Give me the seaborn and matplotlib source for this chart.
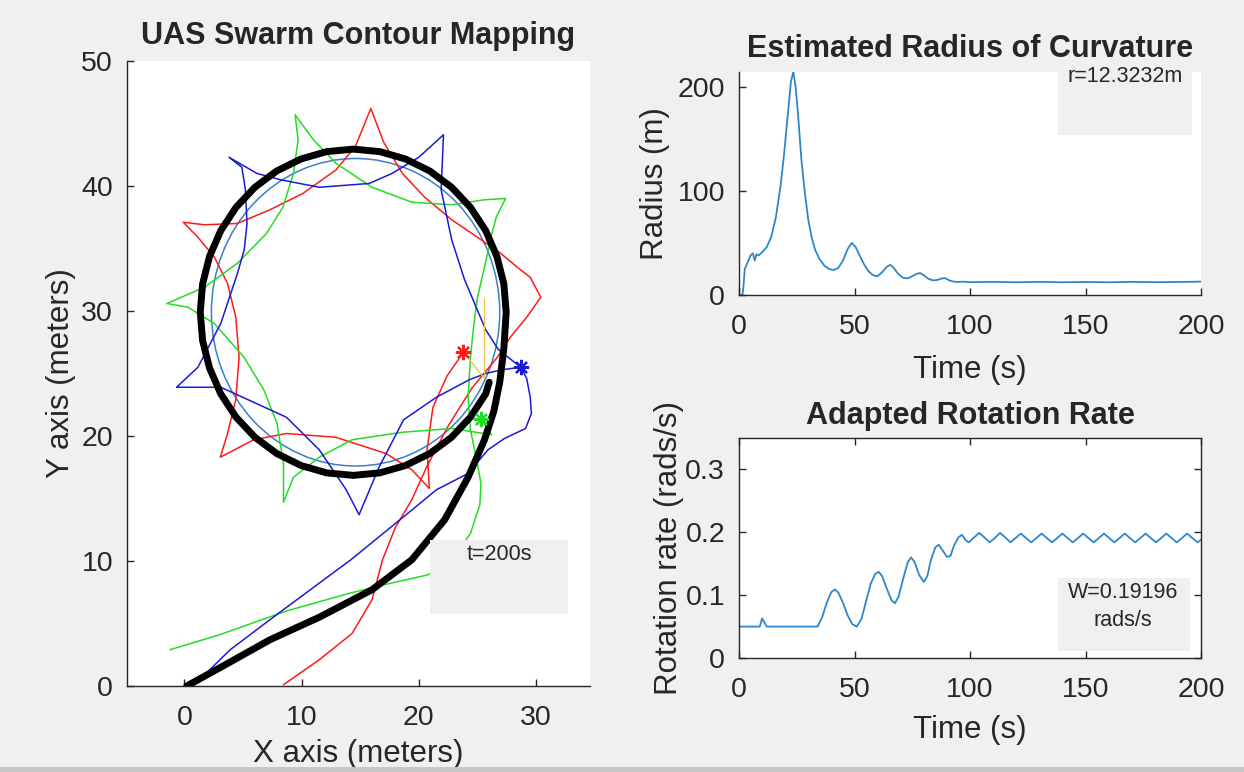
import matplotlib
matplotlib.use("Agg")
import matplotlib.pyplot as plt
import seaborn as sns
from matplotlib.patches import Circle, Rectangle

# ---- swarm map: agent paths (meters) ----
red_x = [8.45, 11.5, 14.3, 16.0, 16.9, 18.0, 19.4, 20.7, 22.5, 24.5, 26.7, 27.8, 29.2, 30.4,
         29.5, 28.4, 27.0, 25.0, 22.8, 20.5, 18.6, 17.0, 15.9,
         14.6, 12.95, 10.1, 7.3, 4.5, 1.7, -0.1,
         1.15, 2.56, 3.68, 4.38, 4.66, 4.38, 3.68, 3.06,
         5.9, 8.7, 12.9, 17.2, 19.4, 20.9,
         20.7, 21.2, 22.4, 23.8]
red_y = [0.1, 2.1, 4.2, 6.9, 10.1, 12.7, 14.9, 17.6, 20.8, 23.8, 26.3, 27.9, 29.5, 31.1,
         32.7, 33.5, 34.6, 35.9, 37.3, 39.1, 41.0, 43.5, 46.2,
         43.2, 41.3, 39.4, 38.1, 37.0, 36.9, 37.1,
         35.9, 34.3, 32.2, 29.5, 26.3, 22.9, 20.2, 18.3,
         19.7, 20.2, 19.9, 18.6, 17.3, 15.8,
         18.9, 22.3, 24.8, 26.7]

green_x = [-1.24, 3.0, 8.7, 14.0, 17.5, 20.8, 23.0, 24.4, 25.2, 25.3, 24.9, 24.4, 24.2, 24.4,
           24.7, 25.0, 25.6, 26.1, 26.6, 27.4,
           25.6, 22.8, 19.4, 16.0, 12.95, 11.0, 9.44,
           9.7, 9.3, 8.4, 7.0, 4.5, 1.7, -1.5,
           0.3, 2.55, 5.08, 6.77, 7.9, 8.45, 8.45,
           9.3, 11.5, 14.3, 18.6, 22.8, 26.2, 25.3]
green_y = [2.9, 4.1, 6.0, 7.4, 8.2, 8.9, 10.3, 12.2, 14.5, 16.2, 18.2, 20.5, 23.1, 26.3,
           29.0, 31.1, 33.5, 35.7, 37.5, 39.0,
           38.9, 38.5, 38.7, 39.9, 41.8, 43.7, 45.7,
           43.7, 41.0, 38.3, 36.2, 33.8, 31.9, 30.6,
           30.3, 29.0, 26.3, 23.7, 21.0, 17.8, 14.7,
           16.7, 18.3, 19.7, 20.3, 20.6, 20.1, 21.4]

blue_x = [0.75, 3.9, 8.0, 14.2, 19.3, 21.5, 24.2, 25.9, 27.3, 29.1, 29.6, 29.5, 29.2, 28.7,
          26.8, 25.7, 23.9, 22.8, 21.9, 22.1,
          20.0, 17.7, 15.75, 11.5, 8.2, 6.2, 3.8,
          4.9, 5.2, 5.34, 5.1, 4.52, 3.1, 1.15, -0.67,
          3.1, 8.7, 11.5, 13.8, 14.9,
          16.6, 18.7, 21.5, 24.3, 25.7, 27.1, 28.7]
blue_y = [0.0, 2.9, 5.8, 10.1, 14.0, 15.7, 17.0, 18.9, 19.8, 20.6, 21.8, 23.1, 24.6, 25.5,
          26.9, 28.5, 32.5, 35.7, 39.7, 44.1,
          42.3, 41.0, 40.2, 39.9, 40.5, 41.0, 42.3,
          41.5, 39.7, 37.0, 34.9, 33.0, 29.0, 25.5, 23.9,
          23.9, 21.5, 18.9, 15.7, 13.7,
          17.5, 21.3, 23.1, 24.5, 25.0, 25.3, 25.5]

# swarm centre path (thick black)
center_x = [0.2, 3.1, 7.3, 11.5, 16.0, 19.4, 22.2, 24.2, 25.6, 26.4, 26.9, 27.25, 27.45,
            27.25, 26.66, 25.70, 24.40, 22.79, 20.93, 18.86, 16.67, 14.4, 12.13, 9.94,
            7.87, 6.01, 4.40, 3.10, 2.14, 1.55, 1.35, 1.55, 2.14, 3.10, 4.40, 6.01, 7.87,
            9.94, 12.13, 14.4, 16.67, 18.86, 20.93, 22.79, 24.40, 25.70, 26.0]
center_y = [0.0, 1.5, 3.7, 5.5, 7.7, 10.1, 13.3, 16.7, 19.7, 22.0, 24.3, 27.0, 29.9,
            32.17, 34.36, 36.43, 38.29, 39.90, 41.20, 42.16, 42.75, 42.95, 42.75, 42.16,
            41.20, 39.90, 38.29, 36.43, 34.36, 32.17, 29.9, 27.63, 25.44, 23.37, 21.51,
            19.90, 18.60, 17.64, 17.05, 16.85, 17.05, 17.64, 18.60, 19.90, 21.51, 23.37, 24.3]

# final agent positions (stars)
final_x = [23.8, 28.7, 25.3]
final_y = [26.7, 25.5, 21.4]
final_colors = ["#ff1a1a", "#1a1ad8", "#22dd22"]

# faint link lines near the centre end
link_x = [23.8, 25.6, 25.6]
link_y = [26.7, 24.6, 31.0]

# estimated contour circle
circle_center = (14.6, 29.9)
circle_radius = 12.3

# ---- estimated radius of curvature ----
radius_t = [0, 1.5, 2, 2.5, 3.5, 5, 6, 6.8, 7.5, 8.5, 10, 12, 14, 16, 18, 19.5, 21, 22.5,
            23.5, 24.5, 25.5, 27, 28.5, 30, 31.5, 33, 35, 37, 39, 41, 43, 45, 47, 48.8,
            50.5, 52, 54, 56, 58, 60, 62, 64, 65.5, 67, 69, 71, 73, 75, 77, 78.5, 80, 82,
            84, 86, 88, 89.5, 91, 93, 95, 97, 100, 110, 120, 130, 140, 150, 160, 170, 180,
            190, 200]
radius_v = [0, 0, 10, 25, 30, 38, 40, 33, 39, 38, 41, 46, 56, 75, 105, 135, 170, 205,
            214, 200, 175, 130, 98, 72, 55, 43, 34, 28, 25, 24, 26, 33, 44, 50,
            46, 39, 30, 23, 19, 18, 22, 27, 29, 26, 20, 16.5, 16, 18, 20.5, 21, 19, 15.5,
            14, 14.5, 16, 16, 14, 12.8, 12.5, 12.8, 12.3, 12.6, 12.2, 12.6, 12.2, 12.5,
            12.2, 12.6, 12.3, 12.5, 12.8]

# ---- adapted rotation rate ----
rate_t = [0, 9, 10, 12, 34, 36, 38, 40, 41.5, 43, 45, 47, 49, 51, 53, 55, 57, 59, 60.5,
          62, 64, 66, 67.5, 69, 71, 73, 74.5, 76, 78, 80, 81.5, 83, 85, 86.5, 88, 90,
          91.5, 93, 95, 96.5, 98, 99.5, 101.8, 104, 106.2, 108.5, 110.8, 113, 115.2,
          117.5, 119.8, 122, 124.2, 126.5, 128.8, 131, 133.2, 135.5, 137.8, 140, 142.2,
          144.5, 146.8, 149, 151.2, 153.5, 155.8, 158, 160.2, 162.5, 164.8, 167, 169.2,
          171.5, 173.8, 176, 178.2, 180.5, 182.8, 185, 187.2, 189.5, 191.8, 194, 196.2,
          198.5, 200]
rate_v = [0.05, 0.05, 0.063, 0.05, 0.05, 0.065, 0.088, 0.105, 0.109, 0.104, 0.088, 0.068,
          0.054, 0.05, 0.062, 0.09, 0.118, 0.134, 0.137, 0.13, 0.11, 0.092, 0.087, 0.097,
          0.125, 0.152, 0.16, 0.153, 0.132, 0.121, 0.13, 0.155, 0.176, 0.18, 0.172, 0.161,
          0.162, 0.178, 0.192, 0.196, 0.188, 0.184, 0.192, 0.199, 0.192, 0.184, 0.191,
          0.199, 0.192, 0.184, 0.191, 0.198, 0.191, 0.184, 0.191, 0.198, 0.191, 0.184,
          0.191, 0.198, 0.191, 0.184, 0.191, 0.198, 0.191, 0.184, 0.191, 0.198, 0.191,
          0.184, 0.191, 0.198, 0.191, 0.184, 0.191, 0.198, 0.191, 0.184, 0.191, 0.198,
          0.191, 0.184, 0.191, 0.198, 0.191, 0.184, 0.188]

W = 1244
H = 772
BG = "#f0f0f0"
INK = "#262626"
LINE_BLUE = "#2f86c8"

sns.set_style("ticks")
plt.rcParams["font.family"] = ["Liberation Sans", "DejaVu Sans"]
plt.rcParams["axes.edgecolor"] = INK
plt.rcParams["axes.linewidth"] = 1.0

fig = plt.figure(figsize=(W / 100, H / 100), dpi=100, facecolor=BG)


def px_axes(left, top, right, bottom):
    return fig.add_axes([left / W, 1 - bottom / H, (right - left) / W, (bottom - top) / H])


def style_axes(ax):
    ax.set_facecolor("white")
    ax.tick_params(direction="in", length=5, width=1.0, labelsize=20.5, colors=INK)
    ax.tick_params(axis="x", pad=14)
    ax.tick_params(axis="y", pad=10)


# ---------- left: swarm map ----------
ax = px_axes(127, 61, 590, 686)
style_axes(ax)

ax.add_patch(Circle(circle_center, circle_radius, fill=False, color="#3b7fc4", lw=1.1, zorder=1))
for xs, ys, c in [(red_x, red_y, "#ff1a1a"), (green_x, green_y, "#22dd22"), (blue_x, blue_y, "#1a1ad8")]:
    sns.lineplot(x=xs, y=ys, sort=False, estimator=None, color=c, lw=1.1, ax=ax, zorder=2)
sns.lineplot(x=link_x, y=link_y, sort=False, estimator=None, color="#e8c84a", lw=1.0, ax=ax, zorder=2)
sns.lineplot(x=center_x, y=center_y, sort=False, estimator=None, color="black", lw=5,
             solid_joinstyle="round", solid_capstyle="round", ax=ax, zorder=3)
for fx, fy, c in zip(final_x, final_y, final_colors):
    ax.plot(fx, fy, marker=(8, 2, 0), ms=11, mew=1.6, color=c, zorder=4)

ax.set_xlim(-4.9, 34.6)
ax.set_ylim(0, 50)
ax.set_xticks([0, 10, 20, 30])
ax.set_yticks([0, 10, 20, 30, 40, 50])
sns.despine(ax=ax)
ax.set_title("UAS Swarm Contour Mapping", fontsize=22, fontweight="bold", pad=12)
ax.set_xlabel("X axis (meters)", fontsize=22.5, color=INK)
ax.set_ylabel("Y axis (meters)", fontsize=22.5, color=INK)
ax.xaxis.set_label_coords(0.5, -0.085)
ax.yaxis.set_label_coords(-0.11, 0.5)

# ---------- top right: radius ----------
ax_r = px_axes(739, 72, 1201, 295)
style_axes(ax_r)
sns.lineplot(x=radius_t, y=radius_v, sort=False, estimator=None, color=LINE_BLUE, lw=1.3, ax=ax_r)
ax_r.set_xlim(0, 200)
ax_r.set_ylim(0, 214)
ax_r.set_xticks([0, 50, 100, 150, 200])
ax_r.set_yticks([0, 100, 200])
sns.despine(ax=ax_r)
ax_r.set_title("Estimated Radius of Curvature", fontsize=22, fontweight="bold", pad=11)
ax_r.set_xlabel("Time (s)", fontsize=22.5, color=INK)
ax_r.set_ylabel("Radius (m)", fontsize=22.5, color=INK)
ax_r.xaxis.set_label_coords(0.5, -0.27)
ax_r.yaxis.set_label_coords(-0.15, 0.5)

# ---------- bottom right: rotation rate ----------
ax_w = px_axes(739, 438, 1201, 658)
style_axes(ax_w)
ax_w.tick_params(top=True, right=True)
sns.lineplot(x=rate_t, y=rate_v, sort=False, estimator=None, color=LINE_BLUE, lw=1.3, ax=ax_w)
ax_w.set_xlim(0, 200)
ax_w.set_ylim(0, 0.35)
ax_w.set_xticks([0, 50, 100, 150, 200])
ax_w.set_yticks([0, 0.1, 0.2, 0.3])
ax_w.set_yticklabels(["0", "0.1", "0.2", "0.3"])
ax_w.set_title("Adapted Rotation Rate", fontsize=22, fontweight="bold", pad=10)
ax_w.set_xlabel("Time (s)", fontsize=22.5, color=INK)
ax_w.set_ylabel("Rotation rate (rads/s)", fontsize=22.5, color=INK)
ax_w.xaxis.set_label_coords(0.5, -0.26)
ax_w.yaxis.set_label_coords(-0.118, 0.5)


# ---------- annotation boxes ----------
def text_box(left, top, right, bottom):
    fig.add_artist(Rectangle((left / W, 1 - bottom / H), (right - left) / W, (bottom - top) / H,
                             transform=fig.transFigure, facecolor="#efefef", edgecolor="none",
                             zorder=5))


text_box(430, 540, 568, 614)
fig.text(499 / W, 1 - 555 / H, "t=200s", ha="center", va="center", fontsize=15.5, color=INK, zorder=6)
text_box(1058, 68, 1192, 135)
fig.text(1125 / W, 1 - 77 / H, "r=12.3232m", ha="center", va="center", fontsize=15.5, color=INK, zorder=6)
text_box(1058, 578, 1190, 651)
fig.text(1123 / W, 1 - 592 / H, "W=0.19196", ha="center", va="center", fontsize=15.5, color=INK, zorder=6)
fig.text(1123 / W, 1 - 621 / H, "rads/s", ha="center", va="center", fontsize=15.5, color=INK, zorder=6)

# window border strip at the bottom
fig.add_artist(Rectangle((0, 0), 1, 5 / H, transform=fig.transFigure, facecolor="#c8c8c8",
                         edgecolor="none", zorder=7))

fig.savefig("out.png", dpi=100, facecolor=BG)
